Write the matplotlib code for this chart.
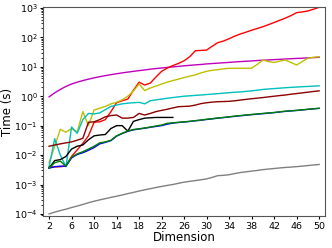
import matplotlib
matplotlib.use("Agg")
import matplotlib.pyplot as plt

dims = list(range(2, 51))
dims_black = list(range(2, 25))

gray = [1.0e-4, 1.15e-4, 1.3e-4, 1.45e-4, 1.65e-4, 1.85e-4, 2.1e-4, 2.4e-4, 2.7e-4, 3.0e-4,
        3.3e-4, 3.65e-4, 4.0e-4, 4.4e-4, 4.9e-4, 5.4e-4, 6.0e-4, 6.6e-4, 7.2e-4, 7.9e-4,
        8.6e-4, 9.3e-4, 1.0e-3, 1.1e-3, 1.2e-3, 1.28e-3, 1.36e-3, 1.45e-3, 1.55e-3, 1.75e-3,
        2.0e-3, 2.05e-3, 2.15e-3, 2.35e-3, 2.55e-3, 2.7e-3, 2.85e-3, 3.0e-3, 3.2e-3, 3.35e-3,
        3.5e-3, 3.65e-3, 3.8e-3, 3.9e-3, 4.05e-3, 4.2e-3, 4.4e-3, 4.6e-3, 4.8e-3]

magenta = [0.95, 1.3, 1.7, 2.15, 2.6, 3.0, 3.4, 3.8, 4.2, 4.6,
           5.0, 5.4, 5.8, 6.2, 6.6, 7.0, 7.4, 7.8, 8.3, 8.7,
           9.1, 9.5, 9.9, 10.3, 10.8, 11.2, 11.6, 12.0, 12.5, 12.9,
           13.3, 13.7, 14.1, 14.6, 15.0, 15.4, 15.8, 16.3, 16.7, 17.1,
           17.5, 17.9, 18.4, 18.8, 19.2, 19.6, 20.1, 20.5, 21.0]

red = [0.0039, 0.004, 0.004, 0.0043, 0.009, 0.015, 0.025, 0.045, 0.13, 0.135,
       0.16, 0.3, 0.6, 0.7, 0.8, 1.6, 3.0, 2.4, 2.8, 4.5,
       7.0, 9.0, 11.0, 13.0, 16.0, 22.0, 35.0, 36.0, 37.0, 50.0,
       66.0, 75.0, 90.0, 110.0, 130.0, 150.0, 175.0, 200.0, 230.0, 270.0,
       320.0, 380.0, 450.0, 550.0, 690.0, 730.0, 790.0, 900.0, 1050.0]

yellow = [0.0055, 0.02, 0.075, 0.06, 0.08, 0.06, 0.3, 0.1, 0.34, 0.39,
          0.45, 0.55, 0.62, 0.75, 1.0, 1.5, 2.6, 1.55, 1.9, 2.2,
          2.6, 3.0, 3.4, 3.8, 4.3, 4.8, 5.3, 6.2, 7.0, 7.6,
          8.0, 8.5, 8.9, 8.9, 8.9, 8.9, 9.0, 12.0, 17.0, 15.0,
          14.0, 15.5, 17.0, 14.0, 11.5, 15.0, 19.5, 21.0, 22.0]

cyan = [0.004, 0.036, 0.01, 0.004, 0.09, 0.055, 0.16, 0.26, 0.25, 0.27,
        0.35, 0.45, 0.5, 0.55, 0.58, 0.6, 0.62, 0.55, 0.7, 0.75,
        0.8, 0.85, 0.9, 0.95, 1.0, 1.03, 1.07, 1.1, 1.14, 1.18,
        1.22, 1.27, 1.32, 1.36, 1.4, 1.46, 1.52, 1.6, 1.7, 1.76,
        1.82, 1.88, 1.94, 2.0, 2.05, 2.1, 2.15, 2.2, 2.25]

brown = [0.02, 0.022, 0.024, 0.026, 0.028, 0.032, 0.037, 0.13, 0.135, 0.16,
         0.2, 0.22, 0.23, 0.18, 0.18, 0.19, 0.26, 0.23, 0.26, 0.3,
         0.33, 0.36, 0.4, 0.44, 0.45, 0.46, 0.5, 0.56, 0.6, 0.63,
         0.65, 0.66, 0.67, 0.7, 0.74, 0.78, 0.82, 0.86, 0.9, 0.95,
         1.0, 1.05, 1.1, 1.17, 1.23, 1.3, 1.37, 1.45, 1.52]

black = [0.0036, 0.0065, 0.007, 0.009, 0.016, 0.02, 0.022, 0.033, 0.045, 0.048,
         0.05, 0.08, 0.1, 0.1, 0.065, 0.14, 0.16, 0.18, 0.185, 0.19,
         0.19, 0.19, 0.19]

green = [0.0036, 0.0055, 0.0062, 0.0042, 0.0085, 0.011, 0.013, 0.016, 0.02, 0.026,
         0.028, 0.032, 0.045, 0.055, 0.066, 0.074, 0.078, 0.083, 0.09, 0.097,
         0.105, 0.12, 0.125, 0.13, 0.135, 0.14, 0.148, 0.155, 0.165, 0.173,
         0.182, 0.19, 0.2, 0.21, 0.22, 0.23, 0.24, 0.25, 0.26, 0.27,
         0.28, 0.295, 0.31, 0.32, 0.33, 0.345, 0.36, 0.375, 0.39]

blue = [0.0036, 0.004, 0.0042, 0.0042, 0.008, 0.0105, 0.012, 0.0145, 0.018, 0.024,
        0.027, 0.031, 0.044, 0.054, 0.064, 0.072, 0.077, 0.082, 0.088, 0.094,
        0.1, 0.112, 0.122, 0.128, 0.133, 0.139, 0.146, 0.153, 0.162, 0.17,
        0.18, 0.188, 0.198, 0.207, 0.217, 0.226, 0.236, 0.246, 0.255, 0.266,
        0.277, 0.292, 0.306, 0.317, 0.328, 0.342, 0.357, 0.372, 0.387]

xticks = list(range(2, 51, 4))

fig = plt.figure(figsize=(3.32, 2.48), dpi=100)
ax = fig.add_axes([0.13, 0.129, 0.849, 0.843])
lw = 1.0
ax.plot(dims, gray, color="gray", lw=lw)
ax.plot(dims, magenta, color="m", lw=lw)
ax.plot(dims, red, color="r", lw=lw)
ax.plot(dims, yellow, color="y", lw=lw)
ax.plot(dims, cyan, color="c", lw=lw)
ax.plot(dims, brown, color="#8b0000", lw=lw)
ax.plot(dims_black, black, color="k", lw=lw)
ax.plot(dims, blue, color="b", lw=lw)
ax.plot(dims, green, color="g", lw=lw)

ax.set_yscale("log")
ax.set_ylim(8.5e-5, 1.08e3)
ax.set_xlim(0.95, 51.05)
ax.set_xticks(xticks)
ax.tick_params(labelsize=6.8, length=2.5, pad=1.5)
ax.tick_params(which="minor", length=1.5)
ax.set_xlabel("Dimension", fontsize=8.5, labelpad=0.5)
ax.set_ylabel("Time (s)", fontsize=8.5, labelpad=0)
for s in ax.spines.values():
    s.set_color("#555555")
fig.savefig("out.png", dpi=100)
